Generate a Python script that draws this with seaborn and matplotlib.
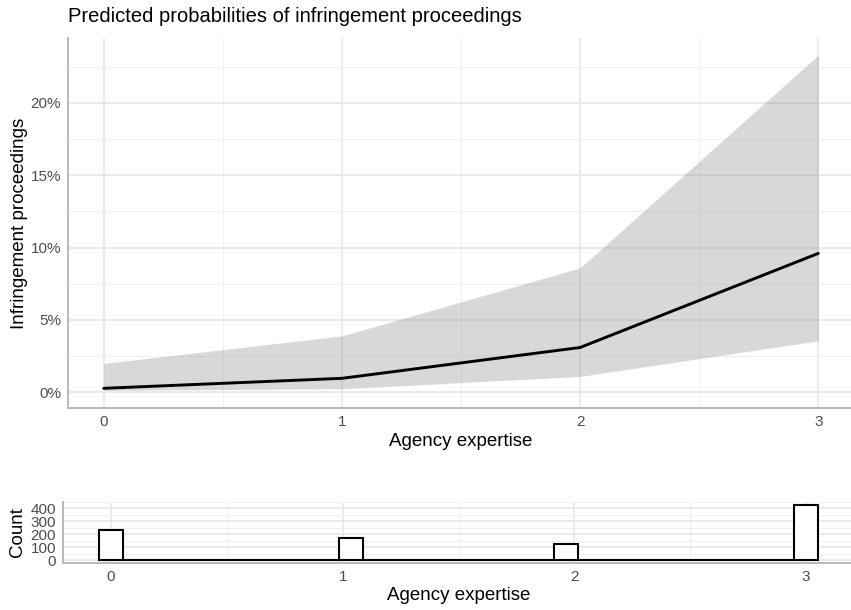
import matplotlib
matplotlib.use('Agg')
import matplotlib.pyplot as plt
import seaborn as sns
import numpy as np
import pandas as pd
from matplotlib.ticker import PercentFormatter, MultipleLocator

# 数据
expertise = [0, 1, 2, 3]
prob_mean = [0.0028, 0.0097, 0.031, 0.096]
prob_low = [0.0014, 0.0025, 0.011, 0.0356]
prob_high = [0.020, 0.039, 0.086, 0.233]
counts = [230, 175, 128, 428]

sns.set_theme(style='whitegrid')
plt.rcParams['font.family'] = ['Liberation Sans', 'DejaVu Sans']

grid_major = '#E6E6E6'
grid_minor = '#F0F0F0'
tick_col = '#4D4D4D'
spine_col = '#B8B8B8'


def style_axis(ax):
    ax.set_facecolor('white')
    ax.set_axisbelow(True)
    ax.grid(True, which='major', color=grid_major, linewidth=1.2)
    ax.grid(True, which='minor', color=grid_minor, linewidth=0.7)
    for s in ['top', 'right']:
        ax.spines[s].set_visible(False)
    for s in ['left', 'bottom']:
        ax.spines[s].set_visible(True)
        ax.spines[s].set_color(spine_col)
        ax.spines[s].set_linewidth(1.4)
    ax.tick_params(which='both', length=0, colors=tick_col, labelsize=11)
    ax.tick_params(axis='x', pad=5)
    ax.tick_params(axis='y', pad=5)


fig = plt.figure(figsize=(8.51, 6.10), dpi=100)

# 上图：预测概率
ax1 = fig.add_axes([68 / 851, 1 - 408 / 610, 786 / 851, 370 / 610])
ax1.fill_between(expertise, prob_low, prob_high, color='grey', alpha=0.3, linewidth=0)
df = pd.DataFrame({'x': expertise, 'y': prob_mean})
sns.lineplot(data=df, x='x', y='y', color='black', linewidth=2.1, ax=ax1)
ax1.set_xlim(-0.15, 3.15)
ax1.set_ylim(-0.0108, 0.2448)
ax1.xaxis.set_major_locator(MultipleLocator(1))
ax1.xaxis.set_minor_locator(MultipleLocator(0.5))
ax1.yaxis.set_major_locator(MultipleLocator(0.05))
ax1.yaxis.set_minor_locator(MultipleLocator(0.025))
ax1.yaxis.set_major_formatter(PercentFormatter(1.0, decimals=0))
style_axis(ax1)
ax1.set_xlabel('Agency expertise', fontsize=13.5, color='black', labelpad=3)
ax1.set_ylabel('Infringement proceedings', fontsize=13.5, color='black', labelpad=2)
fig.text(68 / 851, 1 - 17 / 610, 'Predicted probabilities of infringement proceedings',
         fontsize=14.5, color='black', ha='left', va='center')

# 下图：样本分布
ax2 = fig.add_axes([63 / 851, 1 - 563 / 610, 791 / 851, 61 / 610])
sns.histplot(x=expertise, weights=counts, bins=30, binrange=(-0.0517, 3.0517),
             color='white', edgecolor='black', linewidth=1.5, alpha=1, ax=ax2)
ax2.set_xlim(-0.207, 3.207)
ax2.set_ylim(-21, 450)
ax2.xaxis.set_major_locator(MultipleLocator(1))
ax2.xaxis.set_minor_locator(MultipleLocator(0.5))
ax2.yaxis.set_major_locator(MultipleLocator(100))
ax2.yaxis.set_minor_locator(MultipleLocator(50))
style_axis(ax2)
ax2.set_xlabel('Agency expertise', fontsize=13.5, color='black', labelpad=2)
ax2.set_ylabel('Count', fontsize=13.5, color='black', labelpad=3)

fig.savefig('out.png', dpi=100)
